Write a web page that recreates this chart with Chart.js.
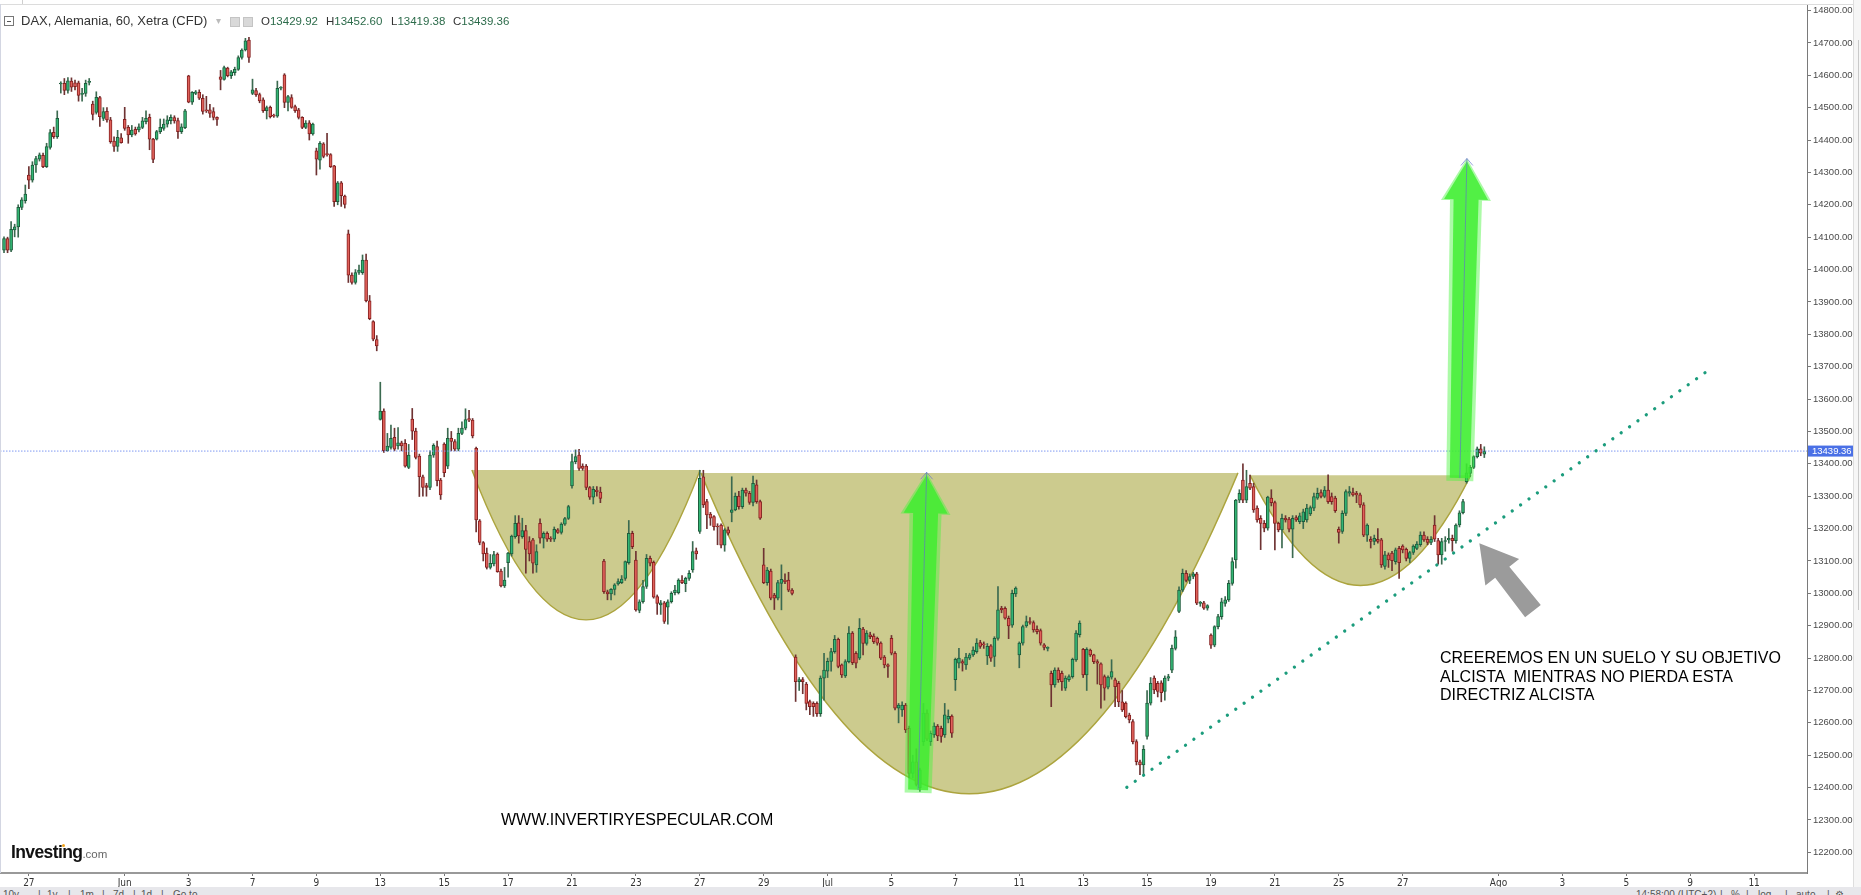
<!DOCTYPE html>
<html>
<head>
<meta charset="utf-8">
<script src="https://cdn.jsdelivr.net/npm/chart.js@4.4.0/dist/chart.umd.min.js"></script>
<style>
  html, body { margin: 0; padding: 0; background: #fff; overflow: hidden; }
  #tela { position: relative; width: 1861px; height: 895px; background: #fff; overflow: hidden; font-family: Arial, "Liberation Sans", sans-serif; }
  #grafico { position: absolute; left: 0; top: 0; }
  .txt { position: absolute; white-space: pre; }
  .cab { position: absolute; top: 13px; font-size: 13px; line-height: 16px; color: #333; white-space: nowrap; }
  .cab b { font-weight: normal; color: #2c6b4a; }
  .ico { position: absolute; top: 17px; width: 8px; height: 8px; background: #d9d9d9; border: 1px solid #c4c4c4; }
  #menos { position: absolute; left: 4px; top: 16px; width: 8px; height: 8px; border: 1px solid #777; }
  #menos:after { content: ""; position: absolute; left: 2px; top: 3.5px; width: 4px; height: 1px; background: #555; }
  #rodape { position: absolute; left: 0; top: 887px; width: 1861px; height: 8px; background: #e7e7eb; overflow: hidden; }
  #rodape span { position: absolute; top: 2px; font-size: 10px; color: #555; white-space: nowrap; }
  #barra { position: absolute; left: 1853px; top: 0; width: 8px; height: 887px; background: #f6f6f6; border-left: 1px solid #dedede; }
  .aviso { position: absolute; font-size: 16px; line-height: 18.5px; color: #000; white-space: pre; }
</style>
</head>
<body>
<div id="tela">
  <canvas id="grafico" width="1853" height="888"></canvas>
  <div id="barra"></div>
  <div style="position:absolute;left:1858px;top:40px;width:1px;height:570px;background:#c9c9c9"></div>
  <div style="position:absolute;left:0;top:4px;width:1853px;height:1px;background:#dcdcdc"></div>
  <div style="position:absolute;left:22px;top:0;width:1px;height:4px;background:#cfcfcf"></div>
  <div style="position:absolute;left:0;top:4px;width:1px;height:869px;background:#d3d6e2"></div>

  <div id="menos"></div>
  <div class="cab" style="left:21px">DAX, Alemania, 60, Xetra (CFD)</div>
  <div class="cab" style="left:216px;color:#bbb;font-size:10px">&#9662;</div>
  <div class="ico" style="left:230px"></div>
  <div class="ico" style="left:243px"></div>
  <div class="cab" id="valO" style="left:261px;font-size:11.5px"></div>
  <div class="cab" id="valH" style="left:326px;font-size:11.5px"></div>
  <div class="cab" id="valL" style="left:391px;font-size:11.5px"></div>
  <div class="cab" id="valC" style="left:453px;font-size:11.5px"></div>

  <div class="aviso" style="left:501px;top:811px">WWW.INVERTIRYESPECULAR.COM</div>
  <div class="aviso" style="left:1440px;top:649px">CREEREMOS EN UN SUELO Y SU OBJETIVO
ALCISTA  MIENTRAS NO PIERDA ESTA
DIRECTRIZ ALCISTA</div>

  <div class="txt" style="left:11px;top:842px;font-size:17.5px;font-weight:bold;letter-spacing:-0.6px;color:#111">Investing<span style="font-size:11.5px;font-weight:normal;letter-spacing:0;color:#666">.com</span></div>
  <div style="position:absolute;left:62px;top:844px;width:3px;height:3px;border-radius:2px;background:#f2a31b"></div>

  <div id="rodape">
    <span style="left:3px">10y</span><span style="left:38px">|</span><span style="left:47px">1y</span><span style="left:68px">|</span>
    <span style="left:80px">1m</span><span style="left:102px">|</span><span style="left:113px">7d</span><span style="left:133px">|</span>
    <span style="left:141px">1d</span><span style="left:161px">|</span><span style="left:173px">Go to</span>
    <span style="left:1636px">14:58:00 (UTC+2)</span><span style="left:1720px">|</span><span style="left:1731px">%</span>
    <span style="left:1746px">|</span><span style="left:1758px">log</span><span style="left:1785px">|</span>
    <span style="left:1796px">auto</span><span style="left:1827px">|</span><span style="left:1835px">&#9881;</span>
  </div>
</div>

<script>
// ---------------- DADOS (velas de 60 min) ----------------
const abertura = [
  14060, 14096, 14060, 14122, 14132, 14192, 14213, 14292, 14276, 14323,
  14341, 14353, 14318, 14377, 14424, 14410, 14573, 14575, 14553, 14582,
  14577, 14577, 14541, 14544, 14578, 14511, 14485, 14531, 14467, 14489,
  14462, 14397, 14380, 14407, 14464, 14439, 14416, 14433, 14431, 14439,
  14457, 14470, 14403, 14403, 14426, 14436, 14449, 14460, 14469, 14460,
  14426, 14438, 14598, 14517, 14544, 14547, 14529, 14492, 14493, 14488,
  14470, 14595, 14587, 14622, 14599, 14608, 14618, 14655, 14678, 14709,
  14544, 14553, 14540, 14524, 14491, 14501, 14475, 14474, 14560, 14601,
  14516, 14531, 14503, 14493, 14470, 14439, 14453, 14419, 14367, 14338,
  14388, 14356, 14355, 14320, 14210, 14268, 14227, 14110, 13983, 13960,
  13991, 13990, 14029, 13903, 13839, 13784, 13537, 13563, 13441, 13451,
  13482, 13455, 13465, 13463, 13389, 13538, 13501, 13424, 13360, 13333,
  13327, 13427, 13453, 13350, 13461, 13393, 13479, 13469, 13445, 13494,
  13510, 13540, 13535, 13448, 13224, 13157, 13124, 13080, 13091, 13121,
  13069, 13023, 13095, 13122, 13175, 13218, 13175, 13194, 13160, 13165,
  13088, 13216, 13170, 13185, 13170, 13167, 13196, 13188, 13214, 13231,
  13332, 13407, 13427, 13393, 13393, 13327, 13297, 13319, 13313, 13100,
  13005, 12998, 13012, 13029, 13033, 13046, 13095, 13185, 13103, 12947,
  12974, 13021, 13108, 13096, 12990, 12964, 12971, 12957, 12974, 13002,
  13002, 13041, 13030, 13046, 13072, 13131, 13191, 13360, 13283, 13245,
  13237, 13206, 13211, 13149, 13196, 13250, 13258, 13300, 13268, 13319,
  13309, 13281, 13335, 13283, 13088, 13033, 13069, 12995, 12985, 13031,
  13041, 13041, 13010, 12803, 12727, 12734, 12720, 12666, 12660, 12660,
  12628, 12738, 12760, 12790, 12820, 12858, 12779, 12745, 12789, 12877,
  12815, 12800, 12890, 12845, 12872, 12868, 12861, 12846, 12803, 12779,
  12861, 12815, 12645, 12640, 12655, 12583, 12444, 12480, 12400, 12542,
  12630, 12542, 12563, 12590, 12583, 12563, 12611, 12621, 12733, 12784,
  12789, 12779, 12800, 12810, 12820, 12848, 12844, 12807, 12838, 12805,
  12861, 12954, 12954, 12923, 12902, 12998, 12810, 12846, 12899, 12913,
  12910, 12889, 12885, 12841, 12830, 12753, 12717, 12763, 12753, 12707,
  12733, 12743, 12794, 12872, 12827, 12748, 12825, 12810, 12789, 12782,
  12743, 12710, 12741, 12733, 12722, 12665, 12661, 12624, 12604, 12542,
  12480, 12470, 12558, 12661, 12738, 12722, 12724, 12697, 12738, 12763,
  12830, 12944, 13010, 13062, 13040, 13052, 13060, 12969, 12971, 12954,
  12871, 12840, 12897, 12928, 12969, 12980, 13031, 13103, 13288, 13350,
  13288, 13340, 13330, 13263, 13232, 13216, 13201, 13294, 13280, 13216,
  13196, 13232, 13229, 13198, 13234, 13221, 13221, 13227, 13245, 13263,
  13294, 13311, 13299, 13319, 13299, 13294, 13198, 13191, 13247, 13309,
  13311, 13309, 13304, 13273, 13180, 13167, 13160, 13167, 13165, 13083,
  13119, 13124, 13098, 13139, 13146, 13136, 13108, 13126, 13139, 13150,
  13180, 13167, 13157, 13211, 13163, 13119, 13160, 13165, 13170, 13163,
  13211, 13249, 13345, 13370, 13389, 13422, 13446, 13429.92
];
const maxima = [
  14101, 14100, 14148, 14140, 14200, 14222, 14261, 14318, 14333, 14350,
  14360, 14360, 14390, 14432, 14440, 14490, 14580, 14590, 14593, 14592,
  14585, 14582, 14560, 14585, 14590, 14520, 14549, 14535, 14500, 14500,
  14470, 14410, 14430, 14420, 14501, 14445, 14445, 14440, 14450, 14470,
  14490, 14480, 14405, 14430, 14465, 14465, 14475, 14478, 14475, 14468,
  14450, 14495, 14600, 14550, 14553, 14555, 14540, 14535, 14510, 14500,
  14472, 14615, 14628, 14625, 14615, 14625, 14660, 14682, 14714, 14717,
  14588, 14560, 14545, 14530, 14505, 14505, 14480, 14582, 14565, 14605,
  14538, 14540, 14508, 14498, 14472, 14460, 14460, 14452, 14375, 14395,
  14392, 14421, 14358, 14322, 14272, 14272, 14230, 14122, 13990, 14000,
  14014, 14045, 14048, 13920, 13842, 13796, 13652, 13570, 13494, 13520,
  13510, 13512, 13470, 13475, 13460, 13571, 13510, 13430, 13365, 13340,
  13440, 13462, 13470, 13355, 13465, 13510, 13500, 13475, 13510, 13530,
  13570, 13565, 13540, 13452, 13228, 13160, 13140, 13120, 13130, 13125,
  13075, 13080, 13127, 13180, 13240, 13240, 13232, 13210, 13175, 13170,
  13150, 13230, 13190, 13190, 13175, 13205, 13200, 13218, 13235, 13272,
  13430, 13443, 13445, 13400, 13398, 13330, 13330, 13330, 13328, 13105,
  13010, 13015, 13030, 13045, 13055, 13100, 13225, 13192, 13130, 12980,
  13040, 13120, 13115, 13100, 12995, 12978, 12975, 12980, 13005, 13025,
  13045, 13055, 13050, 13070, 13160, 13140, 13380, 13380, 13290, 13250,
  13240, 13215, 13215, 13200, 13205, 13360, 13310, 13315, 13325, 13325,
  13315, 13362, 13350, 13288, 13139, 13080, 13075, 13000, 13040, 13088,
  13060, 13065, 13015, 12810, 12740, 12740, 12725, 12670, 12665, 12665,
  12745, 12815, 12800, 12830, 12870, 12862, 12782, 12795, 12897, 12882,
  12820, 12922, 12895, 12885, 12880, 12875, 12865, 12850, 12808, 12782,
  12870, 12820, 12660, 12665, 12660, 12590, 12500, 12520, 12460, 12660,
  12640, 12575, 12600, 12595, 12590, 12660, 12640, 12625, 12800, 12830,
  12795, 12815, 12815, 12835, 12860, 12855, 12850, 12845, 12842, 12866,
  13021, 12960, 12958, 12930, 13010, 13020, 12850, 12902, 12930, 12925,
  12915, 12900, 12890, 12845, 12835, 12760, 12770, 12770, 12760, 12745,
  12748, 12800, 12885, 12915, 12830, 12832, 12828, 12812, 12795, 12785,
  12748, 12745, 12795, 12738, 12728, 12700, 12665, 12630, 12610, 12548,
  12485, 12530, 12700, 12740, 12745, 12728, 12730, 12745, 12750, 12840,
  12885, 13020, 13075, 13070, 13060, 13065, 13065, 12975, 12975, 12965,
  12875, 12900, 12935, 12985, 12990, 13040, 13110, 13290, 13320, 13400,
  13380, 13365, 13340, 13270, 13240, 13225, 13300, 13320, 13285, 13220,
  13245, 13240, 13235, 13240, 13240, 13248, 13260, 13275, 13270, 13310,
  13325, 13320, 13330, 13366, 13310, 13300, 13205, 13255, 13320, 13330,
  13325, 13315, 13310, 13280, 13215, 13175, 13180, 13200, 13170, 13130,
  13125, 13130, 13140, 13145, 13150, 13140, 13130, 13150, 13160, 13190,
  13190, 13175, 13175, 13240, 13170, 13170, 13175, 13200, 13180, 13215,
  13255, 13290, 13400, 13395, 13425, 13452, 13460, 13452.60
];
const minima = [
  14052, 14052, 14055, 14101, 14100, 14185, 14205, 14250, 14270, 14300,
  14335, 14315, 14315, 14372, 14405, 14405, 14545, 14540, 14545, 14550,
  14555, 14520, 14520, 14535, 14570, 14462, 14480, 14442, 14460, 14455,
  14390, 14365, 14365, 14390, 14430, 14390, 14410, 14415, 14425, 14435,
  14450, 14370, 14330, 14400, 14420, 14430, 14440, 14450, 14452, 14405,
  14420, 14435, 14515, 14510, 14540, 14525, 14480, 14485, 14470, 14462,
  14445, 14555, 14585, 14595, 14590, 14600, 14615, 14650, 14675, 14640,
  14540, 14535, 14515, 14485, 14465, 14468, 14470, 14470, 14555, 14500,
  14490, 14498, 14485, 14465, 14435, 14435, 14400, 14415, 14292, 14310,
  14345, 14350, 14315, 14195, 14200, 14195, 14190, 13960, 13955, 13955,
  13985, 13985, 13900, 13845, 13780, 13749, 13535, 13435, 13438, 13445,
  13440, 13445, 13440, 13390, 13385, 13475, 13415, 13299, 13300, 13300,
  13320, 13420, 13332, 13290, 13360, 13385, 13440, 13440, 13440, 13490,
  13505, 13530, 13480, 13190, 13150, 13100, 13075, 13075, 13085, 13065,
  13020, 13018, 13050, 13115, 13170, 13155, 13170, 13062, 13100, 13062,
  13065, 13155, 13140, 13160, 13160, 13160, 13185, 13183, 13210, 13228,
  13325, 13400, 13380, 13380, 13320, 13290, 13276, 13300, 13280, 13000,
  12980, 12980, 12995, 13025, 13030, 13040, 13090, 13138, 12945, 12940,
  12970, 13015, 13085, 12985, 12935, 12935, 12907, 12905, 12970, 12995,
  12998, 13030, 13005, 13040, 13065, 13105, 13185, 13265, 13200, 13210,
  13195, 13150, 13140, 13130, 13180, 13221, 13255, 13260, 13262, 13300,
  13275, 13270, 13278, 13228, 13030, 13025, 12980, 12950, 12980, 12949,
  13030, 13005, 12995, 12666, 12700, 12690, 12640, 12625, 12620, 12620,
  12620, 12670, 12740, 12760, 12815, 12770, 12740, 12740, 12785, 12780,
  12770, 12795, 12810, 12840, 12860, 12845, 12840, 12795, 12770, 12740,
  12810, 12640, 12600, 12620, 12570, 12430, 12430, 12405, 12388, 12530,
  12545, 12530, 12555, 12545, 12540, 12555, 12600, 12555, 12700, 12770,
  12760, 12765, 12795, 12805, 12815, 12830, 12830, 12780, 12790, 12774,
  12855, 12940, 12920, 12860, 12895, 12990, 12770, 12840, 12895, 12905,
  12880, 12875, 12840, 12825, 12822, 12650, 12710, 12725, 12700, 12700,
  12728, 12738, 12790, 12865, 12740, 12700, 12805, 12783, 12720, 12645,
  12670, 12705, 12735, 12650, 12650, 12635, 12615, 12600, 12535, 12470,
  12440, 12440, 12550, 12655, 12690, 12680, 12665, 12670, 12730, 12755,
  12825, 12940, 13005, 13035, 13030, 13045, 12965, 12960, 12950, 12948,
  12830, 12835, 12890, 12920, 12960, 12975, 13025, 13078, 13280, 13280,
  13280, 13320, 13250, 13220, 13135, 13190, 13195, 13270, 13134, 13190,
  13140, 13220, 13190, 13110, 13222, 13215, 13200, 13220, 13240, 13255,
  13290, 13295, 13295, 13278, 13275, 13250, 13155, 13185, 13240, 13300,
  13300, 13280, 13265, 13175, 13160, 13140, 13150, 13155, 13080, 13075,
  13080, 13070, 13090, 13046, 13125, 13100, 13095, 13120, 13135, 13145,
  13160, 13150, 13150, 13160, 13090, 13090, 13130, 13155, 13130, 13155,
  13205, 13245, 13340, 13360, 13385, 13418, 13425, 13419.38
];
const fechamento = [
  14096, 14060, 14124, 14132, 14192, 14215, 14233, 14276, 14323, 14343,
  14354, 14318, 14380, 14423, 14410, 14467, 14574, 14553, 14583, 14563,
  14565, 14538, 14542, 14575, 14580, 14479, 14532, 14472, 14488, 14462,
  14395, 14380, 14408, 14392, 14436, 14416, 14431, 14419, 14441, 14459,
  14467, 14403, 14340, 14426, 14439, 14449, 14462, 14470, 14459, 14426,
  14441, 14490, 14517, 14547, 14549, 14529, 14488, 14490, 14482, 14470,
  14464, 14587, 14624, 14599, 14611, 14618, 14655, 14678, 14706, 14655,
  14555, 14540, 14521, 14491, 14500, 14472, 14474, 14560, 14560, 14516,
  14534, 14501, 14491, 14470, 14439, 14452, 14419, 14449, 14341, 14390,
  14349, 14355, 14318, 14210, 14268, 14228, 14201, 13983, 13960, 13991,
  13998, 14029, 13904, 13848, 13785, 13764, 13563, 13441, 13455, 13479,
  13445, 13465, 13455, 13393, 13427, 13501, 13420, 13360, 13327, 13327,
  13427, 13457, 13348, 13304, 13373, 13479, 13469, 13445, 13494, 13510,
  13537, 13535, 13486, 13227, 13157, 13122, 13080, 13093, 13120, 13067,
  13023, 13041, 13124, 13177, 13216, 13177, 13194, 13136, 13122, 13093,
  13129, 13170, 13185, 13167, 13167, 13198, 13188, 13214, 13231, 13268,
  13407, 13422, 13386, 13386, 13327, 13297, 13321, 13314, 13293, 13005,
  12998, 13012, 13026, 13036, 13044, 13098, 13185, 13144, 12949, 12974,
  13021, 13108, 13093, 12988, 12969, 12971, 12913, 12974, 13000, 13010,
  13041, 13033, 13046, 13062, 13129, 13122, 13355, 13273, 13242, 13232,
  13206, 13205, 13149, 13196, 13186, 13258, 13300, 13268, 13319, 13309,
  13281, 13340, 13283, 13232, 13033, 13072, 12985, 12985, 13033, 13043,
  13036, 13010, 13000, 12727, 12734, 12727, 12660, 12650, 12650, 12628,
  12738, 12763, 12790, 12820, 12858, 12774, 12748, 12789, 12877, 12786,
  12784, 12892, 12845, 12877, 12866, 12851, 12846, 12800, 12779, 12774,
  12815, 12645, 12655, 12655, 12578, 12444, 12480, 12410, 12455, 12630,
  12550, 12568, 12590, 12560, 12558, 12625, 12620, 12568, 12796, 12800,
  12784, 12803, 12810, 12825, 12846, 12836, 12841, 12836, 12800, 12861,
  12949, 12949, 12923, 12899, 13000, 13016, 12846, 12897, 12913, 12910,
  12887, 12882, 12846, 12833, 12831, 12717, 12763, 12733, 12727, 12738,
  12743, 12796, 12877, 12908, 12748, 12827, 12810, 12789, 12784, 12717,
  12707, 12741, 12758, 12712, 12665, 12640, 12619, 12609, 12542, 12480,
  12470, 12518, 12661, 12722, 12702, 12697, 12693, 12738, 12743, 12830,
  12866, 13010, 13062, 13040, 13052, 13060, 12970, 12971, 12954, 12962,
  12840, 12897, 12928, 12974, 12980, 13031, 13098, 13288, 13309, 13288,
  13330, 13325, 13258, 13227, 13216, 13201, 13297, 13280, 13216, 13196,
  13232, 13227, 13198, 13232, 13227, 13239, 13252, 13263, 13265, 13299,
  13309, 13299, 13319, 13283, 13283, 13255, 13188, 13247, 13314, 13314,
  13304, 13304, 13273, 13180, 13211, 13160, 13170, 13160, 13088, 13119,
  13103, 13101, 13134, 13095, 13134, 13108, 13126, 13146, 13152, 13180,
  13165, 13157, 13167, 13167, 13119, 13160, 13163, 13170, 13163, 13211,
  13249, 13283, 13372, 13389, 13422, 13446, 13433, 13439.36
];

// eixo x: posicao (indice da vela) e texto de cada rotulo
const posTicksX = [7, 34, 52, 70, 88, 106, 124, 142, 160, 178, 196, 214, 232, 250, 268, 286, 304, 322, 340, 358, 376, 394, 421, 439, 457, 475, 493];
const rotulosX = ['27', 'Jun', '3', '7', '9', '13', '15', '17', '21', '23', '27', '29', 'Jul', '5', '7', '11', '13', '15', '19', '21', '25', '27', 'Ago', '3', '5', '9', '11'];

// eixo y: de 12200 a 14800
const ticksY = [];
for (let v = 12200; v <= 14800; v += 100) ticksY.push(v);

// desenhos do analista (indice da vela, preco)
const tacaInicio = [131.8, 196.3, 351.0];
const tacaFim    = [196.1, 347.6, 413.2];
const tacaTopo   = [13381, 13372, 13365];
const tacaFundo  = [12918, 12381, 13024];

const setaVerdeBaseX = [257.5, 410.1];
const setaVerdeBaseY = [12393, 13356];
const setaVerdePontaX = [259.9, 412.1];
const setaVerdePontaY = [13374, 14343];

const setaCinzaBase = [430.7, 12945];
const setaCinzaPonta = [415.6, 13155];

const directrizX = [316.3, 481.4];
const directrizY = [12401, 13699];

const ultimo = fechamento.length - 1;
const precoAtual = fechamento[ultimo];

// ---------------- CABECALHO ----------------
document.getElementById('valO').innerHTML = `O<b>${abertura[ultimo].toFixed(2)}</b>`;
document.getElementById('valH').innerHTML = `H<b>${maxima[ultimo].toFixed(2)}</b>`;
document.getElementById('valL').innerHTML = `L<b>${minima[ultimo].toFixed(2)}</b>`;
document.getElementById('valC').innerHTML = `C<b>${fechamento[ultimo].toFixed(2)}</b>`;

// ---------------- MONTANDO AS VELAS ----------------
const alta = fechamento.map((c, i) => c >= abertura[i]);
const corpos = abertura.map((o, i) => ({ x: i, y: [o, fechamento[i]] }));
const pavios = minima.map((l, i) => ({ x: i, y: [l, maxima[i]] }));

const xMin = -1.13;
const xMax = 507.9;

// ---------------- PLUGIN DOS DESENHOS ----------------
function caminhoSeta(ctx, x0, y0, x1, y1, largBase, largTopo, largCabeca, compCabeca) {
  const dx = x1 - x0, dy = y1 - y0;
  const len = Math.hypot(dx, dy);
  const ux = dx / len, uy = dy / len;
  const nx = -uy, ny = ux;
  const bx = x1 - ux * compCabeca, by = y1 - uy * compCabeca;
  ctx.beginPath();
  ctx.moveTo(x0 + nx * largBase / 2, y0 + ny * largBase / 2);
  ctx.lineTo(bx + nx * largTopo / 2, by + ny * largTopo / 2);
  ctx.lineTo(bx + nx * largCabeca / 2, by + ny * largCabeca / 2);
  ctx.lineTo(x1, y1);
  ctx.lineTo(bx - nx * largCabeca / 2, by - ny * largCabeca / 2);
  ctx.lineTo(bx - nx * largTopo / 2, by - ny * largTopo / 2);
  ctx.lineTo(x0 - nx * largBase / 2, y0 - ny * largBase / 2);
  ctx.closePath();
}

const pluginDesenhos = {
  id: 'desenhos',
  beforeDatasetsDraw(chart) {
    const { ctx, scales: { x, y } } = chart;
    ctx.save();
    for (let k = 0; k < tacaInicio.length; k++) {
      const xe = x.getPixelForValue(tacaInicio[k]);
      const xd = x.getPixelForValue(tacaFim[k]);
      const yt = y.getPixelForValue(tacaTopo[k]);
      const yf = y.getPixelForValue(tacaFundo[k]);
      const xm = (xe + xd) / 2;
      ctx.beginPath();
      ctx.moveTo(xe, yt);
      ctx.quadraticCurveTo((xe + xm) / 2, yf, xm, yf);
      ctx.quadraticCurveTo((xm + xd) / 2, yf, xd, yt);
      ctx.closePath();
      ctx.fillStyle = '#cccb8e';
      ctx.fill();
      ctx.beginPath();
      ctx.moveTo(xe, yt);
      ctx.quadraticCurveTo((xe + xm) / 2, yf, xm, yf);
      ctx.quadraticCurveTo((xm + xd) / 2, yf, xd, yt);
      ctx.strokeStyle = '#aca43e';
      ctx.lineWidth = 1.4;
      ctx.stroke();
    }
    ctx.restore();
  },
  afterDatasetsDraw(chart) {
    const { ctx, scales: { x, y } } = chart;
    ctx.save();
    // setas verdes
    for (let k = 0; k < setaVerdeBaseX.length; k++) {
      const x0 = x.getPixelForValue(setaVerdeBaseX[k]);
      const y0 = y.getPixelForValue(setaVerdeBaseY[k]);
      const x1 = x.getPixelForValue(setaVerdePontaX[k]);
      const y1 = y.getPixelForValue(setaVerdePontaY[k]);
      caminhoSeta(ctx, x0, y0 + 3, x1, y1, 27, 32, 50, 42);
      ctx.fillStyle = 'rgba(70, 245, 60, 0.45)';
      ctx.fill();
      caminhoSeta(ctx, x0, y0, x1, y1 + 3, 20, 25, 44, 38);
      ctx.fillStyle = 'rgba(60, 238, 45, 0.8)';
      ctx.fill();
      // linha fina do desenho
      ctx.beginPath();
      ctx.moveTo(x0, y0);
      ctx.lineTo(x1, y1);
      ctx.moveTo(x1 - 6, y1 + 7);
      ctx.lineTo(x1, y1);
      ctx.lineTo(x1 + 6, y1 + 7);
      ctx.strokeStyle = 'rgba(95, 115, 200, 0.65)';
      ctx.lineWidth = 1;
      ctx.stroke();
    }
    // seta cinza
    const gx0 = x.getPixelForValue(setaCinzaBase[0]);
    const gy0 = y.getPixelForValue(setaCinzaBase[1]);
    const gx1 = x.getPixelForValue(setaCinzaPonta[0]);
    const gy1 = y.getPixelForValue(setaCinzaPonta[1]);
    caminhoSeta(ctx, gx0, gy0, gx1, gy1, 20, 18, 43, 37);
    ctx.fillStyle = '#9b9b9b';
    ctx.fill();
    ctx.restore();
  },
  afterDraw(chart) {
    const { ctx, chartArea, scales: { y } } = chart;
    const py = y.getPixelForValue(precoAtual);
    ctx.save();
    ctx.fillStyle = '#4a70e6';
    ctx.fillRect(chartArea.right + 1, py - 5.5, 45, 11);
    ctx.fillStyle = '#fff';
    ctx.font = '9.5px Arial, "Liberation Sans", sans-serif';
    ctx.textBaseline = 'middle';
    ctx.fillText(precoAtual.toFixed(2), chartArea.right + 5, py + 0.5);
    ctx.restore();
  }
};

// ---------------- GRAFICO ----------------
Chart.defaults.font.family = 'Arial, "Liberation Sans", sans-serif';

const ctx = document.getElementById('grafico').getContext('2d');
const grafico = new Chart(ctx, {
  type: 'bar',
  data: {
    datasets: [
      {
        type: 'line',
        data: [{ x: directrizX[0], y: directrizY[0] }, { x: directrizX[1], y: directrizY[1] }],
        borderColor: '#1b9c7c',
        borderWidth: 3.3,
        borderDash: [0.01, 10.3],
        borderCapStyle: 'round',
        pointRadius: 0,
        fill: false,
        order: 0
      },
      {
        type: 'line',
        data: [{ x: xMin, y: precoAtual }, { x: xMax, y: precoAtual }],
        borderColor: '#7f98f2',
        borderWidth: 1,
        borderDash: [1.5, 1.5],
        pointRadius: 0,
        fill: false,
        order: 1
      },
      {
        data: corpos,
        grouped: false,
        barThickness: 3,
        minBarLength: 1,
        backgroundColor: alta.map(a => a ? '#33b574' : '#e0615a'),
        borderColor: alta.map(a => a ? '#1e5c3c' : '#862020'),
        borderWidth: 1,
        borderSkipped: false,
        order: 2
      },
      {
        data: pavios,
        grouped: false,
        barThickness: 1,
        backgroundColor: alta.map(a => a ? '#3b6a50' : '#6e3232'),
        borderWidth: 0,
        order: 3
      }
    ]
  },
  options: {
    responsive: false,
    animation: false,
    events: [],
    layout: { padding: { top: 4, left: 0, right: 0, bottom: 0 } },
    plugins: { legend: { display: false }, tooltip: { enabled: false } },
    scales: {
      x: {
        type: 'linear',
        min: xMin,
        max: xMax,
        offset: false,
        grid: { display: true, drawOnChartArea: false, tickLength: 3, color: '#777', offset: false },
        border: { display: true, color: '#999', width: 2 },
        ticks: {
          autoSkip: false,
          maxRotation: 0,
          padding: 1,
          color: '#333',
          font: { size: 10, family: '"Liberation Sans Narrow", "DejaVu Sans Condensed", Arial, sans-serif' },
          callback: (v, i) => rotulosX[i]
        },
        afterBuildTicks: s => { s.ticks = posTicksX.map(v => ({ value: v })); },
        afterFit: s => { s.height = 15; s.paddingLeft = 0; s.paddingRight = 0; }
      },
      y: {
        position: 'right',
        min: 12136.3,
        max: 14820.1,
        grid: { display: true, drawOnChartArea: false, tickLength: 4, color: '#777' },
        border: { display: true, color: '#7a7a7a', width: 1 },
        ticks: {
          padding: 2,
          color: '#4a4a4a',
          font: { size: 9.5 },
          callback: v => v.toFixed(2)
        },
        afterBuildTicks: s => { s.ticks = ticksY.map(v => ({ value: v })); },
        afterFit: s => { s.width = 46; s.paddingTop = 0; s.paddingBottom = 0; }
      }
    }
  },
  plugins: [pluginDesenhos]
});
</script>
</body>
</html>
